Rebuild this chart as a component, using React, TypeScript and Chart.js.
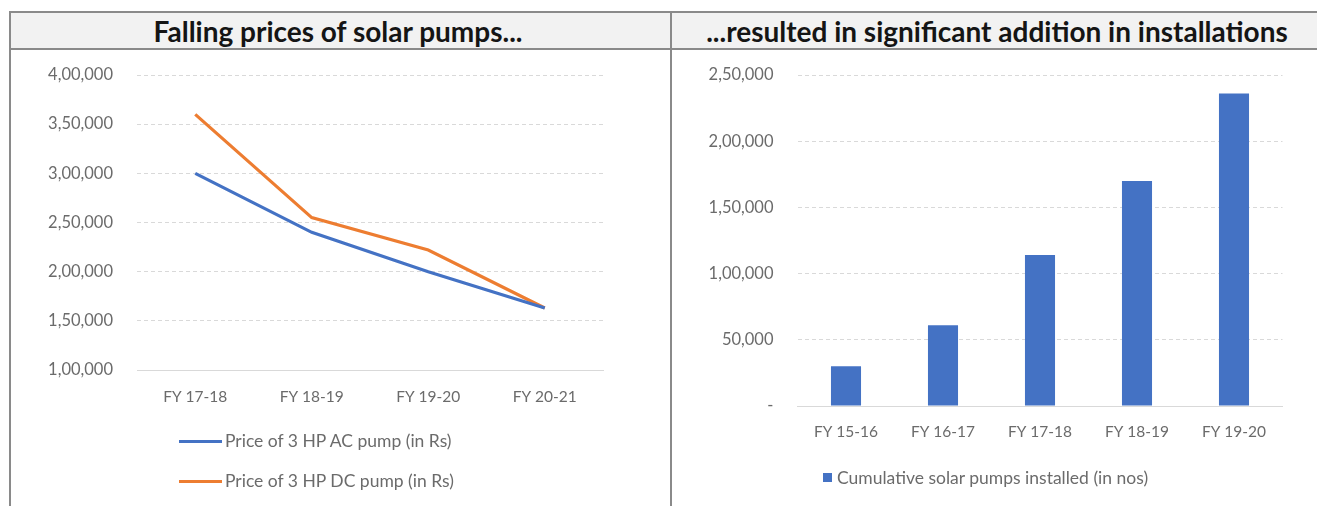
import React, { useEffect, useRef } from "react";
import { Chart, registerables } from "chart.js";

Chart.register(...registerables);

const priceYears = ["FY 17-18", "FY 18-19", "FY 19-20", "FY 20-21"];
const acPrice = [300000, 240000, 200000, 163000];
const dcPrice = [360000, 255000, 222000, 163000];
const priceLabels = ["Price of 3 HP AC pump (in Rs)", "Price of 3 HP DC pump (in Rs)"];

const installYears = ["FY 15-16", "FY 16-17", "FY 17-18", "FY 18-19", "FY 19-20"];
const installed = [30000, 61000, 114000, 170000, 236000];
const installLabel = "Cumulative solar pumps installed (in nos)";

const leftTitle = "Falling prices of solar pumps...";
const rightTitle = "...resulted in significant addition in installations";

const BLUE = "#4472C4";
const ORANGE = "#ED7D31";
const TICK = "#6b6b6b";
const GRID = "#d9d9d9";
const LINE = "#8a8a8a";
const FONT = "Lato";

function indian(v: number): string {
  if (v === 0) return "-";
  const s = Math.round(v).toString();
  if (s.length <= 3) return s;
  const last3 = s.slice(-3);
  let rest = s.slice(0, -3);
  const parts: string[] = [];
  while (rest.length > 2) {
    parts.unshift(rest.slice(-2));
    rest = rest.slice(0, -2);
  }
  if (rest) parts.unshift(rest);
  return parts.join(",") + "," + last3;
}

const yFont = { family: FONT, size: 16.5 };
const xFont = { family: FONT, size: 15.5 };

function yScale(min: number, max: number, width: number) {
  return {
    min,
    max,
    grid: { color: GRID, lineWidth: 1, drawTicks: true, tickLength: 24, tickColor: "rgba(0,0,0,0)" },
    border: { display: false, dash: [4, 3] },
    ticks: { stepSize: 50000, color: TICK, font: yFont, padding: 0, callback: (v: any) => indian(Number(v)) },
    afterFit: (s: any) => { s.width = width; },
  };
}

function LeftChart() {
  const ref = useRef<HTMLCanvasElement>(null);
  useEffect(() => {
    const chart = new Chart(ref.current!, {
      type: "line",
      data: {
        labels: priceYears,
        datasets: [
          { label: priceLabels[0], data: acPrice, borderColor: BLUE, backgroundColor: BLUE, borderWidth: 3.2, pointRadius: 0, tension: 0 },
          { label: priceLabels[1], data: dcPrice, borderColor: ORANGE, backgroundColor: ORANGE, borderWidth: 3.2, pointRadius: 0, tension: 0 },
        ],
      },
      options: {
        animation: false,
        responsive: false,
        maintainAspectRatio: false,
        layout: { padding: { left: 0, right: 67, top: 25, bottom: 86 } },
        plugins: { legend: { display: false }, tooltip: { enabled: false } },
        scales: {
          x: {
            offset: true,
            grid: { display: false, drawTicks: false },
            border: { display: true, color: GRID, width: 1 },
            ticks: { color: TICK, font: xFont, padding: 18, maxRotation: 0 },
            afterFit: (s: any) => { s.height = 50; },
          },
          y: yScale(100000, 400000, 125) as any,
        },
      },
    });
    return () => chart.destroy();
  }, []);
  return <canvas ref={ref} width={658} height={456} style={{ position: "absolute", left: 12, top: 50, width: 658, height: 456 }} />;
}

function RightChart() {
  const ref = useRef<HTMLCanvasElement>(null);
  useEffect(() => {
    const chart = new Chart(ref.current!, {
      type: "bar",
      data: {
        labels: installYears,
        datasets: [
          { label: installLabel, data: installed, backgroundColor: BLUE, categoryPercentage: 1, barPercentage: 0.31 },
        ],
      },
      options: {
        animation: false,
        responsive: false,
        maintainAspectRatio: false,
        layout: { padding: { left: 0, right: 34.5, top: 25, bottom: 50 } },
        plugins: { legend: { display: false }, tooltip: { enabled: false } },
        scales: {
          x: {
            grid: { display: false, drawTicks: false },
            border: { display: true, color: GRID, width: 1 },
            ticks: { color: TICK, font: xFont, padding: 17, maxRotation: 0 },
            afterFit: (s: any) => { s.height = 50; },
          },
          y: yScale(0, 250000, 125.5) as any,
        },
      },
    });
    return () => chart.destroy();
  }, []);
  return <canvas ref={ref} width={645} height={456} style={{ position: "absolute", left: 672, top: 50, width: 645, height: 456 }} />;
}

const legendText: React.CSSProperties = {
  position: "absolute",
  fontFamily: FONT,
  fontSize: 17.5,
  color: TICK,
  whiteSpace: "nowrap",
  lineHeight: "20px",
};

const titleStyle: React.CSSProperties = {
  position: "absolute",
  top: 13,
  height: 35,
  display: "flex",
  alignItems: "center",
  justifyContent: "center",
  fontFamily: FONT,
  fontWeight: 700,
  fontSize: 28,
  color: "#151515",
  whiteSpace: "nowrap",
};

export default function App() {
  return (
    <div style={{ position: "fixed", left: 0, top: 0, width: 1317, height: 506, background: "#fff", overflow: "hidden" }}>
      <div style={{ position: "absolute", left: 11, top: 12, width: 1306, height: 36, background: "#f2f2f2" }} />
      <div style={{ position: "absolute", left: 9, top: 11, width: 1308, height: 2, background: LINE }} />
      <div style={{ position: "absolute", left: 9, top: 48, width: 1308, height: 2, background: LINE }} />
      <div style={{ position: "absolute", left: 9, top: 11, width: 2, height: 495, background: LINE }} />
      <div style={{ position: "absolute", left: 670, top: 11, width: 2, height: 495, background: LINE }} />
      <div style={{ ...titleStyle, left: 8, width: 660 }}>{leftTitle}</div>
      <div style={{ ...titleStyle, left: 672, width: 650 }}>{rightTitle}</div>
      <LeftChart />
      <RightChart />
      <div style={{ position: "absolute", left: 179, top: 440, width: 43, height: 3, background: BLUE }} />
      <div style={{ ...legendText, left: 225, top: 431 }}>{priceLabels[0]}</div>
      <div style={{ position: "absolute", left: 179, top: 480, width: 43, height: 3, background: ORANGE }} />
      <div style={{ ...legendText, left: 225, top: 471 }}>{priceLabels[1]}</div>
      <div style={{ position: "absolute", left: 823, top: 473, width: 9, height: 9, background: BLUE }} />
      <div style={{ ...legendText, left: 837, top: 468 }}>{installLabel}</div>
    </div>
  );
}
